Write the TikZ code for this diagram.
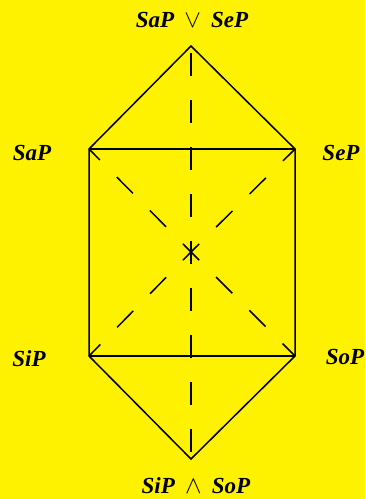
\documentclass[tikz,border=0pt]{standalone}
\usepackage{fontspec}
\setmainfont{Liberation Serif}
\definecolor{bgyellow}{RGB}{255,242,0}
\begin{document}
\begin{tikzpicture}[x=1pt,y=-1pt,
  edge/.style={line width=1.5pt,line join=miter},
  dashline/.style={line width=1.5pt,dash pattern=on 23pt off 24pt,dash phase=11.5pt},
  lbl/.style={font=\fontsize{23}{26}\selectfont\bfseries\itshape,inner sep=0pt}]
\fill[bgyellow] (0,0) rectangle (365,499);
\useasboundingbox (0,0) rectangle (365,499);
\coordinate (T) at (191,46);
\coordinate (A) at (89,149);
\coordinate (E) at (295,149);
\coordinate (I) at (89,356);
\coordinate (O) at (295,356);
\coordinate (B) at (191,459);
\coordinate (C) at (191,252);
\draw[edge] (A) -- (T) -- (E) -- (O) -- (B) -- (I) -- cycle;
\draw[edge] (A) -- (E);
\draw[edge] (I) -- (O);
\draw[dashline] (C) -- (T);
\draw[dashline] (C) -- (B);
\draw[dashline] (C) -- (A);
\draw[dashline] (C) -- (E);
\draw[dashline] (C) -- (I);
\draw[dashline] (C) -- (O);
\node[lbl] (lt) at (192,20) {SaP\;\,$\vee$\;\,SeP};
\node[lbl] (la) at (32,153) {SaP};
\node[lbl] (le) at (341,153) {SeP};
\node[lbl] (li) at (29,359) {SiP};
\node[lbl] (lo) at (345,357) {SoP};
\node[lbl] (lb) at (196,486) {SiP\;\,$\wedge$\;\,SoP};
\end{tikzpicture}
\end{document}
